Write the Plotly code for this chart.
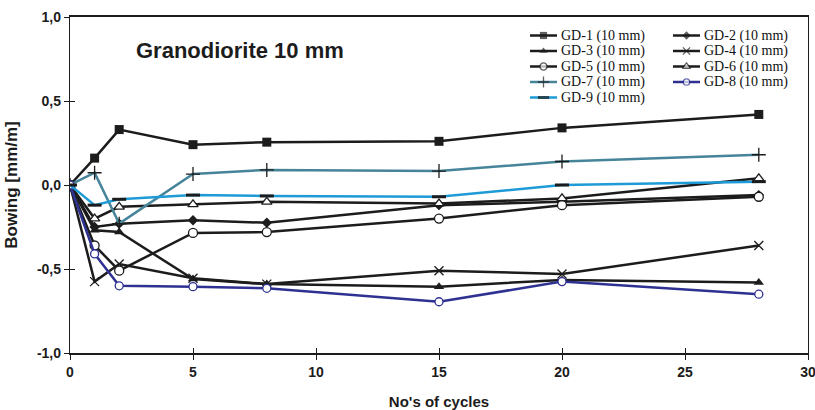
import plotly.graph_objects as go

cycles = [0, 1, 2, 5, 8, 15, 20, 28]

gd1 = [0, 0.16, 0.33, 0.24, 0.255, 0.26, 0.34, 0.42]
gd2 = [0, -0.25, -0.23, -0.21, -0.225, -0.12, -0.10, -0.06]
gd3 = [0, -0.27, -0.28, -0.56, -0.59, -0.605, -0.565, -0.58]
gd4 = [0, -0.575, -0.47, -0.555, -0.59, -0.51, -0.53, -0.36]
gd5 = [0, -0.36, -0.51, -0.285, -0.28, -0.20, -0.12, -0.07]
gd6 = [0, -0.20, -0.13, -0.115, -0.10, -0.11, -0.08, 0.04]
gd7 = [0, 0.073, -0.23, 0.065, 0.09, 0.083, 0.14, 0.18]
gd8 = [0, -0.41, -0.60, -0.605, -0.615, -0.695, -0.575, -0.65]
gd9 = [0, -0.12, -0.085, -0.06, -0.065, -0.07, 0.0, 0.02]

names = ["GD-1 (10 mm)", "GD-2 (10 mm)", "GD-3 (10 mm)", "GD-4 (10 mm)", "GD-5 (10 mm)",
         "GD-6 (10 mm)", "GD-7 (10 mm)", "GD-8 (10 mm)", "GD-9 (10 mm)"]
series = [gd1, gd2, gd3, gd4, gd5, gd6, gd7, gd8, gd9]

x_ticks = [0, 5, 10, 15, 20, 25, 30]
x_ticklabels = ["0", "5", "10", "15", "20", "25", "30"]
y_ticks = [-1.0, -0.5, 0.0, 0.5, 1.0]
y_ticklabels = ["-1,0", "-0,5", "0,0", "0,5", "1,0"]

BLK = "#1c1c1c"
TEAL = "#468499"
LBLUE = "#1e9bd7"
NAVY = "#2e3192"

styles = [
    dict(color=BLK, symbol="square", msize=9, mcolor=BLK, mline=BLK, mlw=0),
    dict(color=BLK, symbol="diamond", msize=8, mcolor=BLK, mline=BLK, mlw=0),
    dict(color=BLK, symbol="triangle-up", msize=9, mcolor=BLK, mline=BLK, mlw=0),
    dict(color=BLK, symbol="x-thin-open", msize=9, mcolor=BLK, mline=BLK, mlw=1.3),
    dict(color=BLK, symbol="circle", msize=9, mcolor="white", mline=BLK, mlw=1.3),
    dict(color=BLK, symbol="triangle-up", msize=9, mcolor="white", mline=BLK, mlw=1.3),
    dict(color=TEAL, symbol="cross-thin-open", msize=10, mcolor=BLK, mline=BLK, mlw=1.3),
    dict(color=NAVY, symbol="circle", msize=8, mcolor="white", mline=NAVY, mlw=1.3),
    dict(color=LBLUE, symbol="line-ew-open", msize=10, mcolor=BLK, mline=BLK, mlw=3),
]

# plot-area pixel frame (layout)
L, R, T, B = 70, 808, 17, 353
W, H = 815, 410

fig = go.Figure()
for nm, ys, st in zip(names, series, styles):
    fig.add_trace(go.Scatter(
        x=cycles, y=ys, name=nm, mode="lines+markers", showlegend=False,
        line=dict(color=st["color"], width=2.5),
        marker=dict(symbol=st["symbol"], size=st["msize"], color=st["mcolor"],
                    line=dict(color=st["mline"], width=st["mlw"])),
    ))

# manual legend (two columns) on a hidden pixel-coordinate overlay axis
col_x = [530, 673]
row_y = [35.5, 51, 66.5, 82, 97.5]
sample_len = 27
legend_font = dict(family="Liberation Serif, Times New Roman, serif", size=14, color="#111")
annotations = []
for i, (nm, st) in enumerate(zip(names, styles)):
    cx = col_x[i % 2]
    ry = row_y[i // 2]
    fig.add_trace(go.Scatter(
        x=[cx, cx + sample_len / 2, cx + sample_len], y=[ry, ry, ry],
        xaxis="x2", yaxis="y2", mode="lines+markers", showlegend=False, hoverinfo="skip",
        line=dict(color=st["color"], width=2.5),
        marker=dict(symbol=st["symbol"], size=[0, st["msize"] * 0.8, 0], color=st["mcolor"],
                    line=dict(color=st["mline"], width=st["mlw"])),
    ))
    annotations.append(dict(text=nm, x=(cx + sample_len + 2 - L) / (R - L), y=ry,
                            xref="paper", yref="y2", showarrow=False,
                            xanchor="left", yanchor="middle", font=legend_font))

# dummy trace for inner tick overlay axes
fig.add_trace(go.Scatter(x=[None], y=[None], xaxis="x3", yaxis="y3", showlegend=False))

annotations.append(dict(text="<b>Granodiorite 10 mm</b>", x=(240 - L) / (R - L), y=50,
                        xref="paper", yref="y2", showarrow=False,
                        xanchor="center", yanchor="middle",
                        font=dict(family="Liberation Sans, Arial", size=22, color=BLK)))

tickfont = dict(family="Liberation Sans, Arial", size=14, color=BLK)
fig.update_layout(
    width=W, height=H,
    margin=dict(l=L, r=W - R, t=T, b=H - B, autoexpand=False),
    paper_bgcolor="white", plot_bgcolor="white",
    showlegend=False,
    xaxis=dict(range=[0, 30], tickvals=x_ticks, ticktext=["<b>%s</b>" % t for t in x_ticklabels],
               showline=True, linecolor=BLK, linewidth=2, ticklabeloverflow="allow",
               mirror=True, ticks="outside", ticklen=5, tickwidth=1.2, tickcolor=BLK, showgrid=False,
               zeroline=False, automargin=False, tickfont=tickfont,
               title=dict(text="<b>No's of cycles</b>", standoff=20,
                          font=dict(family="Liberation Sans, Arial", size=15, color=BLK))),
    yaxis=dict(range=[-1, 1], tickvals=y_ticks, ticktext=["<b>%s</b>" % t for t in y_ticklabels],
               showline=True, linecolor=BLK, linewidth=1.3, mirror=True, ticks="outside",
               ticklen=5, tickwidth=1.2, ticklabeloverflow="allow",
               tickcolor=BLK, showgrid=False, zeroline=False, automargin=False, tickfont=tickfont,
               title=dict(text="<b>Bowing [mm/m]</b>", standoff=14,
                          font=dict(family="Liberation Sans, Arial", size=17, color=BLK))),
    xaxis2=dict(range=[L, R], overlaying="x", anchor="y2", visible=False, fixedrange=True),
    yaxis2=dict(range=[B, T], overlaying="y", anchor="x2", visible=False, fixedrange=True),
    xaxis3=dict(range=[0, 30], tickvals=x_ticks, overlaying="x", anchor="y3", ticks="inside",
                ticklen=5, tickwidth=1.2, tickcolor=BLK, showticklabels=False, showline=False,
                showgrid=False, zeroline=False),
    yaxis3=dict(range=[-1, 1], tickvals=y_ticks, overlaying="y", anchor="x3", ticks="inside",
                ticklen=5, tickwidth=1.2, tickcolor=BLK, showticklabels=False, showline=False,
                showgrid=False, zeroline=False),
    annotations=annotations,
)

fig.write_html("out.html", config={"displayModeBar": False})

# remove the default page margin so the figure sits at the window's top-left corner
with open("out.html", "r", encoding="utf-8") as f:
    html = f.read()
html = html.replace("<head>", "<head><style>html,body{margin:0;padding:0;overflow:hidden;}</style>", 1)
with open("out.html", "w", encoding="utf-8") as f:
    f.write(html)
